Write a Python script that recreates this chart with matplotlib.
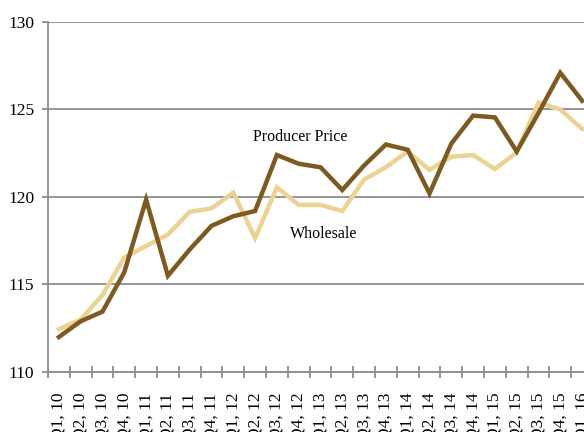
import matplotlib
matplotlib.use("Agg")
import matplotlib.pyplot as plt

plt.rcParams['font.family'] = ['Liberation Serif', 'DejaVu Serif']

quarters = ["Q1, 10", "Q2, 10", "Q3, 10", "Q4, 10",
            "Q1, 11", "Q2, 11", "Q3, 11", "Q4, 11",
            "Q1, 12", "Q2, 12", "Q3, 12", "Q4, 12",
            "Q1, 13", "Q2, 13", "Q3, 13", "Q4, 13",
            "Q1, 14", "Q2, 14", "Q3, 14", "Q4, 14",
            "Q1, 15", "Q2, 15", "Q3, 15", "Q4, 15",
            "Q1, 16"]
producer = [112.0, 112.9, 113.45, 115.7, 119.85, 115.5, 117.0, 118.35,
            118.9, 119.2, 122.4, 121.9, 121.7, 120.4, 121.8, 123.0,
            122.7, 120.2, 123.05, 124.65, 124.55, 122.6, 124.8, 127.1,
            125.5]
wholesale = [112.45, 113.0, 114.4, 116.55, 117.2, 117.85, 119.15, 119.35,
             120.25, 117.65, 120.55, 119.55, 119.55, 119.2, 121.0, 121.7,
             122.6, 121.55, 122.3, 122.4, 121.6, 122.55, 125.4, 125.0,
             123.9]

dark = "#7d5a1f"
light = "#ecd391"
grey = "#8c8c8c"

fig = plt.figure(figsize=(5.84, 4.32), dpi=100)
# axes run past the right/bottom edge, as in the source image
ax = fig.add_axes([48/584, 60/432, 545/584, 350/432])

x = list(range(len(quarters)))
ax.plot(x, wholesale, color=light, lw=3.2, solid_joinstyle='miter', zorder=3)
ax.plot(x, producer, color=dark, lw=3.2, solid_joinstyle='miter', zorder=4)

ax.set_ylim(110, 130)
ax.set_yticks([110, 115, 120, 125, 130])
ax.set_xlim(-0.5, len(quarters) - 0.5)
# ticks between categories, labels centred on them
ax.set_xticks([i + 0.5 for i in range(-1, len(quarters))])
ax.set_xticklabels([])
ax.set_xticks(x, minor=True)
ax.set_xticklabels(quarters, minor=True, rotation=90)

ax.grid(axis='y', color=grey, lw=1.3)
ax.set_axisbelow(True)
for s in ['top', 'right']:
    ax.spines[s].set_visible(False)
for s in ['left', 'bottom']:
    ax.spines[s].set_color(grey)
    ax.spines[s].set_linewidth(1.3)

ax.tick_params(axis='y', direction='out', length=4, width=1.3, color=grey,
               labelsize=12.5, pad=6)
ax.tick_params(axis='x', which='major', direction='inout', length=8, width=1.3,
               color=grey)
ax.tick_params(axis='x', which='minor', length=0, labelsize=12.5, pad=15)

ax.text(11.05, 123.4, "Producer Price", fontsize=11.5, ha='center', va='center')
ax.text(12.15, 117.9, "Wholesale", fontsize=11.5, ha='center', va='center')

fig.savefig("out.png", dpi=100)
